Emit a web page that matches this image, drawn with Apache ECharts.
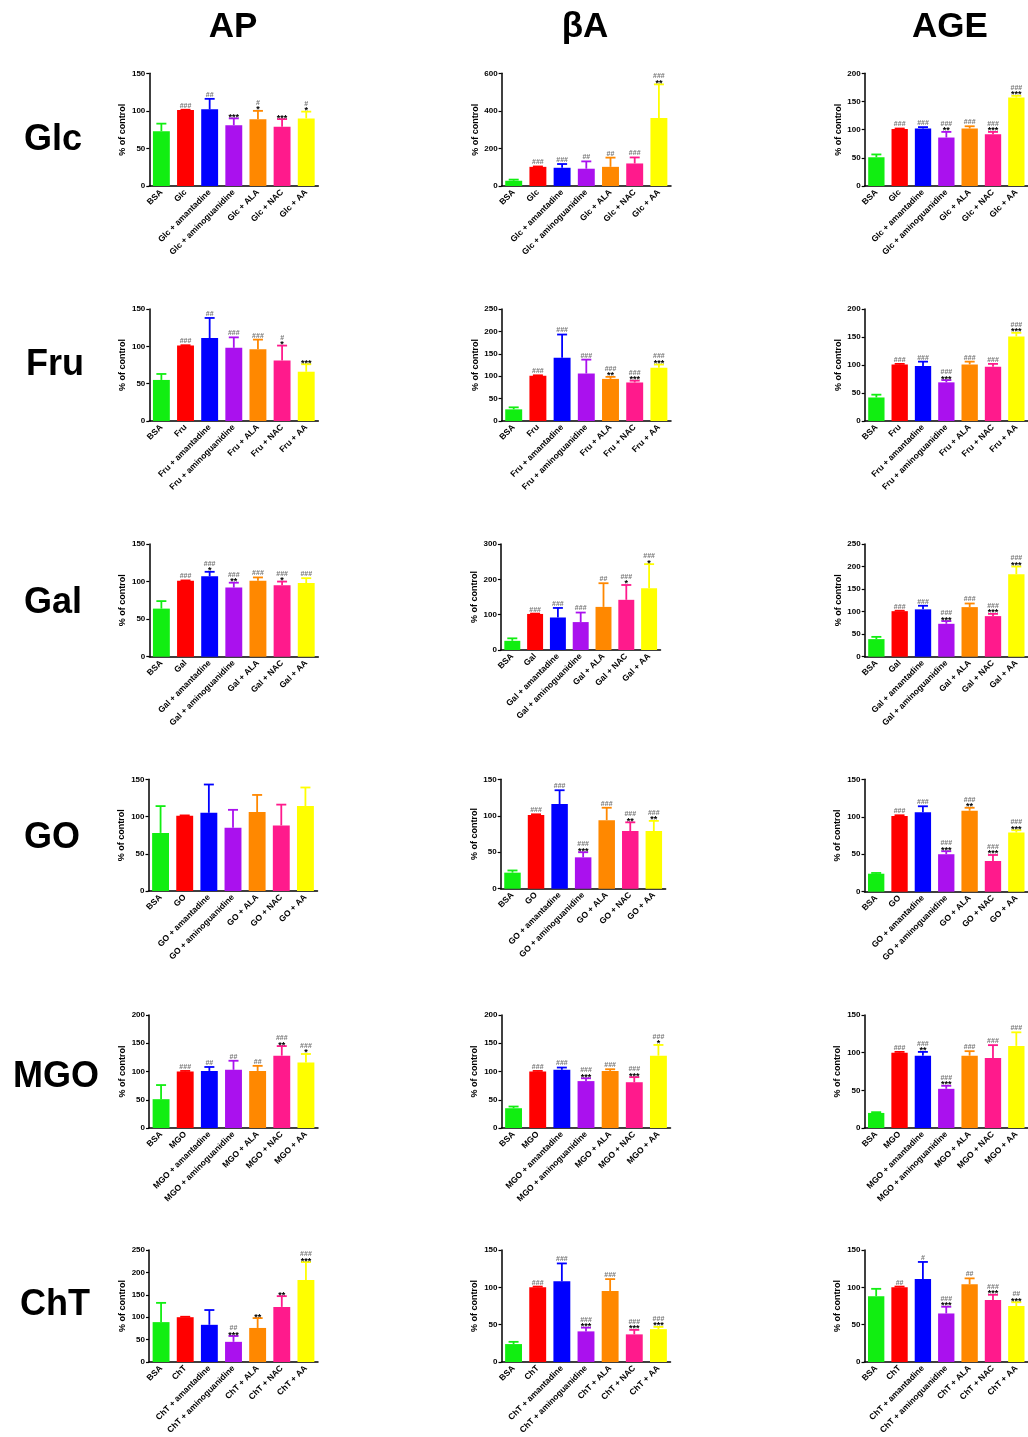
<!DOCTYPE html>
<html><head><meta charset="utf-8">
<script src="https://cdn.jsdelivr.net/npm/echarts@6/dist/echarts.min.js"></script>
<style>html,body{margin:0;padding:0;background:#fff}#c{width:1028px;height:1437px}</style>
</head><body><div id="c"></div>
<script>
// ---------- data ----------
const rowNames = ['Glc', 'Fru', 'Gal', 'GO', 'MGO', 'ChT'];
const colNames = ['AP', 'βA', 'AGE'];
const treatments = ['amantadine', 'aminoguanidine', 'ALA', 'NAC', 'AA'];

// AP
const AP_mean = [
  [73, 101, 102, 81, 89, 79, 90],
  [55, 101, 111, 98, 96, 81, 66],
  [64, 101, 107, 92, 101, 95, 98],
  [78, 101, 105, 85, 106, 88, 114],
  [51, 100, 101, 103, 101, 128, 116],
  [89, 100, 83, 45, 76, 123, 183]
];
const AP_sd = [
  [10, 0.5, 14, 9, 11, 10, 9],
  [8, 0.5, 27, 14, 13, 20, 10],
  [10, 0.5, 6, 6.5, 4.5, 5, 6.5],
  [36, 0.5, 38, 24, 23, 28, 25],
  [25, 1, 7, 16, 9, 17, 15],
  [43, 1, 33, 13, 22, 24, 40]
];
const AP_hash = [
  ['', '###', '##', '', '#', '', '#'],
  ['', '###', '##', '###', '###', '#', ''],
  ['', '###', '###', '###', '###', '###', '###'],
  ['', '', '', '', '', '', ''],
  ['', '###', '##', '##', '##', '###', '###'],
  ['', '', '', '##', '', '', '###']
];
const AP_star = [
  ['', '', '', '***', '*', '***', '*'],
  ['', '', '', '', '', '*', '***'],
  ['', '', '*', '**', '', '*', ''],
  ['', '', '', '', '', '', ''],
  ['', '', '', '', '', '**', '*'],
  ['', '', '', '***', '**', '**', '***']
];
const AP_max = [150, 150, 150, 150, 200, 250];
const AP_step = [50, 50, 50, 50, 50, 50];

// βA
const BA_mean = [
  [28, 102, 97, 92, 102, 120, 362],
  [26, 101, 141, 106, 94, 86, 119],
  [26, 102, 92, 79, 122, 142, 175],
  [22, 101, 116, 43, 94, 79, 79],
  [35, 100, 103, 83, 101, 81, 128],
  [24, 100, 108, 41, 95, 37, 44]
];
const BA_sd = [
  [6, 2, 20, 39, 49, 32, 179],
  [4.5, 1, 52, 31, 4.5, 4, 7],
  [7, 1, 27, 27, 67, 42, 68],
  [3, 1, 19, 7, 17, 12, 14],
  [3, 1, 4, 5, 3, 9, 19],
  [3, 1, 24, 5, 16, 6, 3]
];
const BA_hash = [
  ['', '###', '###', '##', '##', '###', '###'],
  ['', '###', '###', '###', '###', '###', '###'],
  ['', '###', '###', '###', '##', '###', '###'],
  ['', '###', '###', '###', '###', '###', '###'],
  ['', '###', '###', '###', '###', '###', '###'],
  ['', '###', '###', '###', '###', '###', '###']
];
const BA_star = [
  ['', '', '', '', '', '', '**'],
  ['', '', '', '', '**', '***', '***'],
  ['', '', '', '', '', '*', '*'],
  ['', '', '', '***', '', '**', '**'],
  ['', '', '', '***', '', '***', '*'],
  ['', '', '', '***', '', '***', '***']
];
const BA_max = [600, 250, 300, 150, 200, 150];
const BA_step = [200, 50, 100, 50, 50, 50];

// AGE
const AGE_mean = [
  [51, 101, 102, 86, 102, 92, 157],
  [42, 101, 98, 69, 101, 97, 151],
  [39, 101, 105, 73, 110, 90, 183],
  [24, 101, 106, 50, 108, 41, 79],
  [20, 100, 96, 52, 96, 93, 109],
  [88, 100, 111, 65, 104, 83, 75]
];
const AGE_sd = [
  [5, 1, 2.5, 10, 4, 4, 3],
  [5, 1, 8, 4, 5, 5, 6.5],
  [5, 1, 8, 6, 8, 5, 17],
  [1, 1, 8, 4, 4, 8, 3],
  [1, 1, 5, 4, 6, 17, 18],
  [10, 1, 23, 9, 8, 7, 5]
];
const AGE_hash = [
  ['', '###', '###', '###', '###', '###', '###'],
  ['', '###', '###', '###', '###', '###', '###'],
  ['', '###', '###', '###', '###', '###', '###'],
  ['', '###', '###', '###', '###', '###', '###'],
  ['', '###', '###', '###', '###', '###', '###'],
  ['', '##', '#', '###', '##', '###', '##']
];
const AGE_star = [
  ['', '', '', '**', '', '***', '***'],
  ['', '', '', '***', '', '', '***'],
  ['', '', '', '***', '', '***', '***'],
  ['', '', '', '***', '**', '***', '***'],
  ['', '', '**', '***', '', '', ''],
  ['', '', '', '***', '', '***', '***']
];
const AGE_max = [200, 200, 250, 150, 150, 150];
const AGE_step = [50, 50, 50, 50, 50, 50];

const barColors = ['#11ee11', '#ff0000', '#0000ff', '#aa11ee', '#ff8800', '#ff1a8c', '#ffff00'];

// ---------- layout ----------
const colLeft = [[149.3,149.3,149.3,148.5,149,149],[501.6,501.6,500.9,500.7,501.5,501.5],[864.7,864.7,864.7,864.5,864.5,864.5]];
const colWidth = [[169,169,169,169,169,169],[169.4,169.4,159.6,164.9,169,169],[168,168,168,168,168,168]];
const rowTop = [73.3, 309, 544, 779.3, 1015, 1250];
const rowBottom = [
  [186, 421, 656.7, 891, 1128, 1362],
  [186, 421, 650, 888.7, 1128, 1362],
  [186, 421, 656.7, 891.7, 1128, 1362]
];

const FONT = '"Liberation Sans", Arial, sans-serif';
const cols = [
  {mean: AP_mean, sd: AP_sd, hash: AP_hash, star: AP_star, max: AP_max, step: AP_step},
  {mean: BA_mean, sd: BA_sd, hash: BA_hash, star: BA_star, max: BA_max, step: BA_step},
  {mean: AGE_mean, sd: AGE_sd, hash: AGE_hash, star: AGE_star, max: AGE_max, step: AGE_step}
];

function makeRender(means, sds, hashes, stars) {
  return function (params, api) {
    const i = params.dataIndex;
    const m = means[i], s = sds[i];
    const p0 = api.coord([i, m]);
    const p1 = api.coord([i, m + s]);
    const col = barColors[i];
    const half = 5;
    const children = [
      {type: 'line', shape: {x1: p0[0], y1: p0[1], x2: p1[0], y2: p1[1]}, style: {stroke: col, lineWidth: 1.8}},
      {type: 'line', shape: {x1: p1[0] - half, y1: p1[1], x2: p1[0] + half, y2: p1[1]}, style: {stroke: col, lineWidth: 1.8}}
    ];
    const hasStar = !!stars[i];
    if (hasStar) {
      children.push({type: 'text', style: {text: stars[i], x: p1[0], y: p1[1] - 1, align: 'center', verticalAlign: 'middle',
        font: 'bold 9px ' + FONT, fill: '#000'}});
    }
    if (hashes[i]) {
      children.push({type: 'text', style: {text: hashes[i], x: p1[0], y: p1[1] - (hasStar ? 8 : 4), align: 'center', verticalAlign: 'middle',
        font: 'bold 7px ' + FONT, fill: '#777'}});
    }
    return {type: 'group', children};
  };
}

const grid = [], xAxis = [], yAxis = [], series = [];
let k = 0;
for (let r = 0; r < 6; r++) {
  const s = rowNames[r];
  const cats = ['BSA', s].concat(treatments.map(t => s + ' + ' + t));
  for (let c = 0; c < 3; c++) {
    const d = cols[c];
    grid.push({left: colLeft[c][r], width: colWidth[c][r], top: rowTop[r], height: rowBottom[c][r] - rowTop[r], containLabel: false});
    xAxis.push({
      type: 'category', gridIndex: k, data: cats,
      axisLine: {lineStyle: {color: '#000', width: 1.5}},
      axisTick: {alignWithLabel: true, length: 3, lineStyle: {color: '#000', width: 1.2}},
      axisLabel: {interval: 0, rotate: 45, margin: 5, color: '#000', fontWeight: 'bold', fontSize: 8.5, fontFamily: FONT}
    });
    yAxis.push({
      type: 'value', gridIndex: k, min: 0, max: d.max[r], interval: d.step[r],
      name: '% of control', nameLocation: 'middle', nameRotate: 90, nameGap: 22,
      nameTextStyle: {color: '#000', fontWeight: 'bold', fontSize: 9, fontFamily: FONT},
      splitLine: {show: false},
      axisLine: {show: true, lineStyle: {color: '#000', width: 1.5}},
      axisTick: {show: true, length: 3, lineStyle: {color: '#000', width: 1.2}},
      axisLabel: {color: '#000', fontWeight: 'bold', fontSize: 8, fontFamily: FONT, margin: 4}
    });
    series.push({
      type: 'bar', xAxisIndex: k, yAxisIndex: k, barWidth: '70%',
      data: d.mean[r].map((v, i) => ({value: v, itemStyle: {color: barColors[i]}})),
      animation: false
    });
    series.push({
      type: 'custom', xAxisIndex: k, yAxisIndex: k, clip: false, z: 5,
      data: d.mean[r].map((v, i) => [i, v]),
      renderItem: makeRender(d.mean[r], d.sd[r], d.hash[r], d.star[r]),
      animation: false
    });
    k++;
  }
}

const graphic = [];
const titleX = [233, 585, 950];
colNames.forEach((t, c) => graphic.push({type: 'text', left: null, x: titleX[c], y: 27,
  style: {text: t, font: 'bold 35px ' + FONT, fill: '#000', align: 'center', verticalAlign: 'middle'}}));
const rowLabelX = [53, 55, 53, 52, 56, 55];
const rowLabelY = [140, 365, 603, 838, 1077, 1305];
rowNames.forEach((t, r) => graphic.push({type: 'text', x: rowLabelX[r], y: rowLabelY[r],
  style: {text: t, font: 'bold 36px ' + FONT, fill: '#000', align: 'center', verticalAlign: 'middle'}}));

const chart = echarts.init(document.getElementById('c'), null, {renderer: 'canvas'});
chart.setOption({animation: false, backgroundColor: '#fff', grid, xAxis, yAxis, series, graphic});
</script>
</body></html>
